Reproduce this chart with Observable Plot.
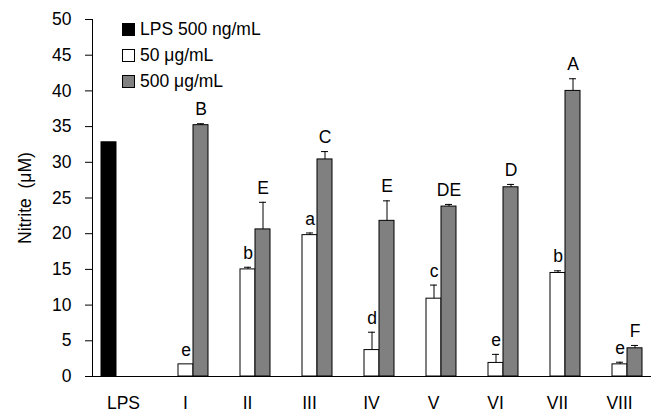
<!DOCTYPE html>
<html>
<head>
<meta charset="utf-8">
<script src="https://cdn.jsdelivr.net/npm/d3@7"></script>
<script src="https://cdn.jsdelivr.net/npm/@observablehq/plot@0.6"></script>
<style>
  body { margin: 0; background: #fff; }
  #wrap { position: relative; width: 656px; height: 412px; font-family: Arial, "Liberation Sans", sans-serif; }
  #legend { position: absolute; left: 122px; top: 16px; font-size: 17.5px; color: #000; }
  #legend .row { display: flex; align-items: center; height: 26px; }
  #legend .sw { width: 13px; height: 13px; border: 1px solid #000; box-sizing: border-box; margin-right: 5px; }
  svg text { white-space: pre; }
</style>
</head>
<body>
<div id="wrap"><div id="chart"></div><div id="legend"></div></div>
<script>
// ---- data ----
const categories = ["LPS", "I", "II", "III", "IV", "V", "VI", "VII", "VIII"];
const seriesNames = ["LPS 500 ng/mL", "50 μg/mL", "500 μg/mL"];
const seriesColors = ["#000000", "#ffffff", "#808080"];

const lpsValue = 32.8;
const lpsErr = 0;

// treatments I..VIII
const lowValues  = [1.7, 15.0, 19.8, 3.7, 10.9, 1.9, 14.5, 1.7];   // 50 μg/mL
const lowErrors  = [0, 0.3, 0.3, 2.5, 1.9, 1.2, 0.3, 0.3];
const lowLetters = ["e", "b", "a", "d", "c", "e", "b", "e"];

const highValues  = [35.2, 20.6, 30.4, 21.8, 23.8, 26.5, 40.0, 3.95]; // 500 μg/mL
const highErrors  = [0.2, 3.8, 1.1, 2.8, 0.3, 0.4, 1.7, 0.4];
const highLetters = ["B", "E", "C", "E", "DE", "D", "A", "F"];

const yTicks = [0, 5, 10, 15, 20, 25, 30, 35, 40, 45, 50];
const yLabel = "Nitrite  (μM)";

// ---- build table ----
const rows = [{cat: "LPS", series: seriesNames[0], value: lpsValue, err: lpsErr, letter: ""}];
categories.slice(1).forEach((c, i) => {
  rows.push({cat: c, series: seriesNames[1], value: lowValues[i], err: lowErrors[i], letter: lowLetters[i]});
  rows.push({cat: c, series: seriesNames[2], value: highValues[i], err: highErrors[i], letter: highLetters[i]});
});
rows.forEach(d => d.top = d.value + d.err);
const withErr = rows.filter(d => d.err > 0);
const withLetter = rows.filter(d => d.letter);

const chart = Plot.plot({
  width: 656,
  height: 412,
  marginLeft: 88,
  marginRight: 3,
  marginTop: 19,
  marginBottom: 36,
  style: {fontFamily: 'Arial, "Liberation Sans", sans-serif', fontSize: "17.5px", color: "#000", background: "#fff"},
  fx: {domain: categories, padding: 0, label: null},
  x: {domain: seriesNames, paddingInner: 0, paddingOuter: 0.45, axis: null},
  y: {domain: [0, 50], ticks: yTicks},
  color: {domain: seriesNames, range: seriesColors},
  marks: [
    Plot.barY(rows, {fx: "cat", x: "series", y: "value", fill: "series", stroke: "#000", strokeWidth: 1}),
    Plot.ruleX(withErr, {fx: "cat", x: "series", y1: "value", y2: "top", stroke: "#000", strokeWidth: 1}),
    Plot.tickY(withErr, {fx: "cat", x: "series", y: "top", stroke: "#000", strokeWidth: 1, insetLeft: 4, insetRight: 4}),
    Plot.text(withLetter, {fx: "cat", x: "series", y: "top", text: "letter", dy: -14, fill: "#000"}),
    Plot.axisY({ticks: yTicks, tickSize: 7, tickPadding: 14, label: yLabel, labelAnchor: "center", labelArrow: "none", labelOffset: 74}),
    Plot.axisFx({anchor: "bottom", tickSize: 0, tickPadding: 20, label: null}),
    Plot.frame({anchor: "left", facetAnchor: "left"}),
    Plot.frame({anchor: "bottom"})
  ]
});
document.getElementById("chart").appendChild(chart);

// legend (overlay inside plot area, top-left)
const legend = document.getElementById("legend");
seriesNames.forEach((s, i) => {
  const row = document.createElement("div");
  row.className = "row";
  const sw = document.createElement("span");
  sw.className = "sw";
  sw.style.background = seriesColors[i];
  row.appendChild(sw);
  row.appendChild(document.createTextNode(s));
  legend.appendChild(row);
});
</script>
</body>
</html>
